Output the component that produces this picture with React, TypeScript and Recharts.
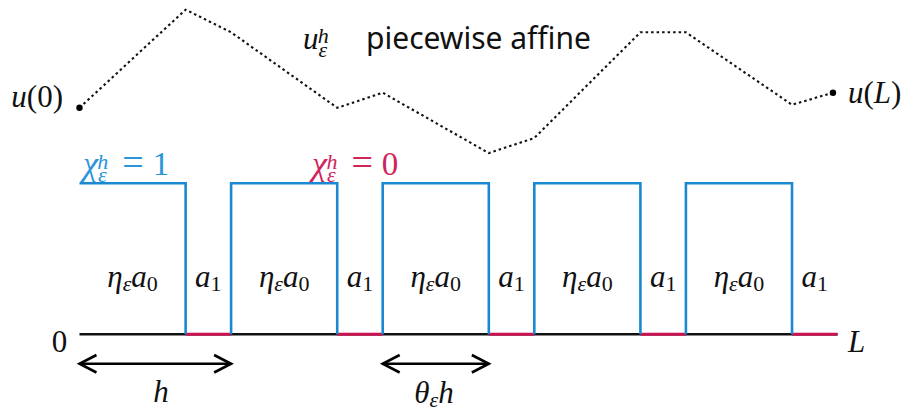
import React from 'react';
import { ComposedChart, Line, XAxis, YAxis, ReferenceDot } from 'recharts';

// ---------- data ----------
// x measured in units of the cell length h (L = 5h), y: chi level = 1
// null values break the blue step path so that it does not run along the red gaps
const chiX = [0, 0.7, 0.7, 0.7, 1, 1, 1.7, 1.7, 1.7, 2, 2, 2.7, 2.7, 2.7, 3, 3, 3.7, 3.7, 3.7, 4, 4, 4.7, 4.7];
const chiY = [1, 1, 0, null, 0, 1, 1, 0, null, 0, 1, 1, 0, null, 0, 1, 1, 0, null, 0, 1, 1, 0];
const gapStart = [0.7, 1.7, 2.7, 3.7, 4.7];
const gapEnd = [1, 2, 3, 4, 5];
const uX = [0, 0.7, 1, 1.7, 2, 2.7, 3, 3.7, 4, 4.7, 4.97];
const uY = [1.5, 2.15, 2.0, 1.5, 1.6, 1.2, 1.3, 2.0, 2.0, 1.52, 1.6];
const axisX = [0, 5];
const cellCenters = [0.35, 1.35, 2.35, 3.35, 4.35];
const gapCenters = [0.85, 1.85, 2.85, 3.85, 4.85];
const hArrow = [0, 1];
const thetaArrow = [2, 2.7];
const titleText = 'piecewise affine';

// ---------- layout ----------
const W = 909;
const H = 412;
const X_DOMAIN: [number, number] = [-0.5244, 5.4716];
const Y_DOMAIN: [number, number] = [-0.5146, 2.2139];
const ARROW_Y = -0.195;
const HEAD_DX = 0.112;
const HEAD_DY = 0.058;

const BLUE = '#1a89d1';
const BLUE_T = '#2b95d8';
const RED = '#c9124f';
const RED_T = '#d0245d';
const MF = "'Liberation Serif', 'Times New Roman', serif";
const MS = 31;
const SS = 22;

const chiData = chiX.map((x, i) => ({ x, y: chiY[i] }));
const uData = uX.map((x, i) => ({ x, y: uY[i] }));
const baseData = axisX.map((x) => ({ x, y: 0 }));
const gapData: { x: number; y: number | null }[] = [];
gapStart.forEach((s, i) => {
  gapData.push({ x: s, y: 0 }, { x: gapEnd[i], y: 0 }, { x: gapEnd[i], y: null });
});

function arrowParts(a: number, b: number) {
  return {
    shaft: [{ x: a, y: ARROW_Y }, { x: b, y: ARROW_Y }],
    left: [
      { x: a + HEAD_DX, y: ARROW_Y + HEAD_DY },
      { x: a, y: ARROW_Y },
      { x: a + HEAD_DX, y: ARROW_Y - HEAD_DY },
    ],
    right: [
      { x: b - HEAD_DX, y: ARROW_Y + HEAD_DY },
      { x: b, y: ARROW_Y },
      { x: b - HEAD_DX, y: ARROW_Y - HEAD_DY },
    ],
  };
}

const I = (props: any) => <tspan fontStyle="italic" {...props} />;

type LabelSpec = { x: number; y: number; render: (cx: number, cy: number) => React.ReactNode };

const mathText = (cx: number, cy: number, anchor: string, fill: string, children: React.ReactNode) => (
  <text x={cx} y={cy} textAnchor={anchor} fontFamily={MF} fontSize={MS} fill={fill}>
    {children}
  </text>
);

const chiLabel = (digit: string) => (
  <>
    <I fontSize={34}>χ</I>
    <I fontSize={SS} dy={7.4}>ε</I>
    <I fontSize={SS} dx={-9.3} dy={-13.4}>h</I>
    <tspan dx={14} dy={6} fontSize={38}>=</tspan>
    <tspan dx={9} fontSize={33}>{digit}</tspan>
  </>
);

const labels: LabelSpec[] = [
  {
    x: -0.109, y: 1.505,
    render: (cx, cy) => mathText(cx, cy, 'end', '#111', (<><I>u</I><tspan>(0)</tspan></>)),
  },
  {
    x: 1.474, y: 1.887,
    render: (cx, cy) => mathText(cx, cy, 'start', '#111', (
      <>
        <I>u</I>
        <I fontSize={SS} dy={7.4}>ε</I>
        <I fontSize={SS} dx={-9.3} dy={-13.4}>h</I>
      </>
    )),
  },
  {
    x: 1.89, y: 1.887,
    render: (cx, cy) => (
      <text x={cx} y={cy} fontFamily="'Noto Sans', 'Open Sans', sans-serif" fontSize={30} fill="#111">
        {titleText}
      </text>
    ),
  },
  {
    x: 5.069, y: 1.532,
    render: (cx, cy) => mathText(cx, cy, 'start', '#111', (<><I>u</I><tspan>(</tspan><I>L</I><tspan>)</tspan></>)),
  },
  {
    x: 0.023, y: 1.055,
    render: (cx, cy) => mathText(cx, cy, 'start', BLUE_T, chiLabel('1')),
  },
  {
    x: 1.534, y: 1.055,
    render: (cx, cy) => mathText(cx, cy, 'start', RED_T, chiLabel('0')),
  },
  ...cellCenters.map((c) => ({
    x: c, y: 0.313,
    render: (cx: number, cy: number) => mathText(cx, cy, 'middle', '#111', (
      <>
        <I>η</I>
        <I fontSize={SS} dy={4}>ε</I>
        <I dy={-4}>a</I>
        <tspan fontSize={SS} dy={4}>0</tspan>
      </>
    )),
  })),
  ...gapCenters.map((c) => ({
    x: c, y: 0.313,
    render: (cx: number, cy: number) => mathText(cx, cy, 'middle', '#111', (
      <>
        <I>a</I>
        <tspan fontSize={SS} dy={4}>1</tspan>
      </>
    )),
  })),
  {
    x: -0.08, y: -0.115,
    render: (cx, cy) => mathText(cx, cy, 'end', '#111', <tspan>0</tspan>),
  },
  {
    x: 5.069, y: -0.115,
    render: (cx, cy) => mathText(cx, cy, 'start', '#111', <I>L</I>),
  },
  {
    x: 0.538, y: -0.446,
    render: (cx, cy) => mathText(cx, cy, 'middle', '#111', <I>h</I>),
  },
  {
    x: 2.338, y: -0.455,
    render: (cx, cy) => mathText(cx, cy, 'middle', '#111', (
      <>
        <I>θ</I>
        <I fontSize={SS} dy={4}>ε</I>
        <I dy={-4}>h</I>
      </>
    )),
  },
];

export default function App() {
  const arrows = [arrowParts(hArrow[0], hArrow[1]), arrowParts(thetaArrow[0], thetaArrow[1])];
  return (
    <div style={{ position: 'absolute', left: 0, top: 0, width: W, height: H, background: '#fff' }}>
      <ComposedChart width={W} height={H} margin={{ top: 0, right: 0, bottom: 0, left: 0 }}>
        <XAxis type="number" dataKey="x" domain={X_DOMAIN} hide />
        <YAxis type="number" dataKey="y" domain={Y_DOMAIN} hide />
        <Line data={baseData} dataKey="y" type="linear" stroke="#111" strokeWidth={2.6}
          dot={false} activeDot={false} isAnimationActive={false} />
        <Line data={gapData} dataKey="y" type="linear" stroke={RED} strokeWidth={3}
          connectNulls={false} dot={false} activeDot={false} isAnimationActive={false} />
        <Line data={chiData} dataKey="y" type="linear" stroke={BLUE} strokeWidth={2.6}
          connectNulls={false} strokeLinejoin="miter" dot={false} activeDot={false} isAnimationActive={false} />
        <Line data={uData} dataKey="y" type="linear" stroke="#111" strokeWidth={2.1}
          strokeDasharray="2.5 3" dot={false} activeDot={false} isAnimationActive={false} />
        <ReferenceDot x={uX[0]} y={uY[0]} r={3.2} fill="#000" stroke="none" ifOverflow="visible" />
        <ReferenceDot x={uX[uX.length - 1]} y={uY[uY.length - 1]} r={3.2} fill="#000" stroke="none" ifOverflow="visible" />
        {arrows.map((a, i) => (
          <Line key={'as' + i} data={a.shaft} dataKey="y" type="linear" stroke="#000" strokeWidth={2.6}
            dot={false} activeDot={false} isAnimationActive={false} />
        ))}
        {arrows.map((a, i) => (
          <Line key={'al' + i} data={a.left} dataKey="y" type="linear" stroke="#000" strokeWidth={2.6}
            strokeLinejoin="miter" fill="none" dot={false} activeDot={false} isAnimationActive={false} />
        ))}
        {arrows.map((a, i) => (
          <Line key={'ar' + i} data={a.right} dataKey="y" type="linear" stroke="#000" strokeWidth={2.6}
            strokeLinejoin="miter" fill="none" dot={false} activeDot={false} isAnimationActive={false} />
        ))}
        {labels.map((l, i) => (
          <ReferenceDot key={'l' + i} x={l.x} y={l.y} r={0} ifOverflow="visible"
            shape={(p: any) => <g>{l.render(p.cx, p.cy)}</g>} />
        ))}
      </ComposedChart>
    </div>
  );
}
